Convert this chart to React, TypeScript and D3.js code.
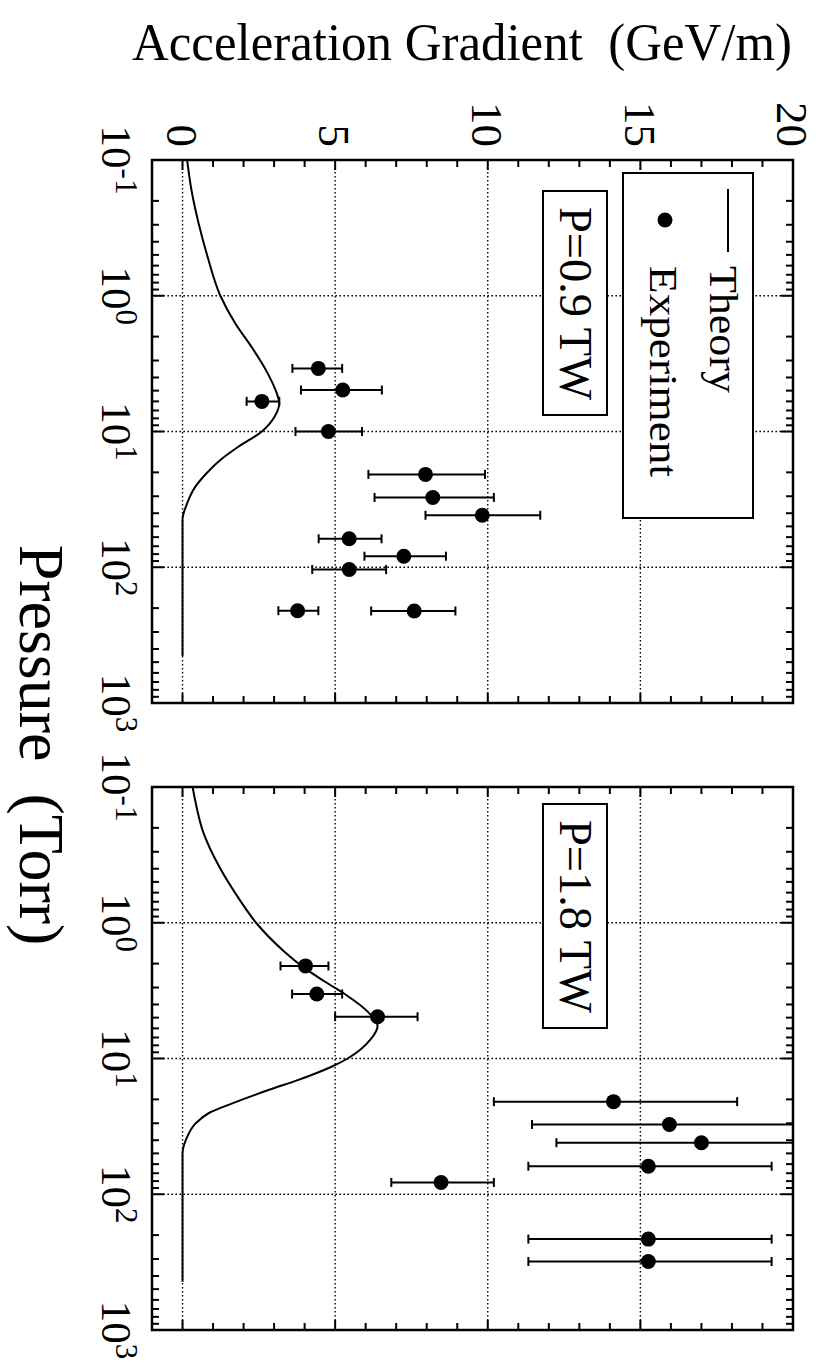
import React from 'react';
import * as d3 from 'd3';

// axis ticks
const pressureTicks = [0.1, 1, 10, 100, 1000];
const pressureExponents = ['-1', '0', '1', '2', '3'];
const gradientTicks = [0, 5, 10, 15, 20];

// P = 0.9 TW
const theoryLowPressure = [0.1, 0.17, 0.295, 0.525, 1, 1.6, 2.38, 3.73, 5.25, 6.17, 7.76, 10, 12.9, 16.2, 20.4, 25.7, 33.9, 44.7, 450];
const theoryLowGradient = [0.15, 0.3, 0.53, 0.83, 1.24, 1.73, 2.26, 2.79, 3.09, 3.17, 3.02, 2.6, 1.84, 1.24, 0.78, 0.41, 0.15, 0.0, 0.0];
const expLowPressure = [3.43, 4.95, 6.0, 10, 20.7, 30.6, 41.4, 61.7, 82.9, 104, 209, 210];
const expLowGradient = [4.45, 5.25, 2.6, 4.78, 7.96, 8.2, 9.82, 5.46, 7.25, 5.46, 3.77, 7.59];
const expLowErrLo = [3.6, 3.88, 2.1, 3.7, 6.09, 6.29, 7.96, 4.46, 5.96, 4.25, 3.14, 6.18];
const expLowErrHi = [5.23, 6.53, 3.17, 5.88, 9.91, 10.2, 11.72, 6.52, 8.63, 6.67, 4.45, 8.94];

// P = 1.8 TW
const theoryHighPressure = [0.1, 0.124, 0.216, 0.389, 0.687, 1, 1.62, 2.16, 2.72, 3.39, 4.57, 5.75, 7.24, 10, 11.5, 14.5, 17, 21.4, 25.1, 30.2, 38, 50.1, 442];
const theoryHighGradient = [0.33, 0.41, 0.68, 1.21, 1.89, 2.41, 3.32, 4.0, 4.67, 5.35, 6.09, 6.39, 6.16, 5.41, 4.88, 3.75, 2.84, 1.63, 0.88, 0.42, 0.15, 0.0, 0.0];
const expHighPressure = [2.08, 3.35, 4.92, 20.8, 30.6, 41.7, 62.2, 81.9, 214, 313];
const expHighGradient = [4.03, 4.4, 6.39, 14.12, 15.95, 17.0, 15.26, 8.47, 15.26, 15.26];
const expHighErrLo = [3.21, 3.59, 5.0, 10.2, 11.45, 12.25, 11.33, 6.84, 11.33, 11.33];
const expHighErrHi = [4.78, 5.23, 7.7, 18.17, 20.45, 21.75, 19.3, 10.2, 19.3, 19.3];

const W = 821;
const H = 1365;
const FONT = '"Liberation Serif", "DejaVu Serif", serif';

// the figure is drawn in a landscape frame (u = screen y, v = W - screen x), then rotated
const vTop = 28;
const vBottom = 669;
const panelH = 543;

const panels = [
  {
    id: 'low', top: 160, label: 'P=0.9 TW', boxStart: 191, legend: true,
    theoryP: theoryLowPressure, theoryG: theoryLowGradient,
    expP: expLowPressure, expG: expLowGradient, lo: expLowErrLo, hi: expLowErrHi,
  },
  {
    id: 'high', top: 787, label: 'P=1.8 TW', boxStart: 804, legend: false,
    theoryP: theoryHighPressure, theoryG: theoryHighGradient,
    expP: expHighPressure, expG: expHighGradient, lo: expHighErrLo, hi: expHighErrHi,
  },
];

const y = d3.scaleLinear().domain([-1, 20]).range([vBottom, vTop]);

const minorLogTicks = () => {
  const out: number[] = [];
  for (let e = -1; e < 3; e++) {
    for (let m = 2; m <= 9; m++) out.push(m * Math.pow(10, e));
  }
  return out;
};

const Panel = ({ p }: { p: typeof panels[number] }) => {
  const x = d3.scaleLog().domain([0.1, 1000]).range([p.top, p.top + panelH]);
  const line = d3.line<number>()
    .x((_, i) => x(p.theoryP[i]))
    .y((_, i) => y(p.theoryG[i]))
    .curve(d3.curveMonotoneX);
  const minor = d3.range(-1, 21);
  const clipId = `clip-${p.id}`;
  return (
    <g>
      <defs>
        <clipPath id={clipId}>
          <rect x={p.top} y={vTop} width={panelH} height={vBottom - vTop} />
        </clipPath>
      </defs>
      {/* dotted grid */}
      <g stroke="#000" strokeWidth={1.4} strokeDasharray="1.6 2.4">
        {[1, 10, 100].map(t => (
          <line key={`gx${t}`} x1={x(t)} x2={x(t)} y1={vTop} y2={vBottom} />
        ))}
        {[0, 5, 10, 15].map(t => (
          <line key={`gy${t}`} x1={p.top} x2={p.top + panelH} y1={y(t)} y2={y(t)} />
        ))}
      </g>
      {/* label box */}
      <rect x={p.boxStart} y={214} width={224} height={64} fill="#fff" stroke="#000" strokeWidth={2} />
      <text x={p.boxStart + 16} y={261} fontFamily={FONT} fontSize={46} textLength={193} lengthAdjust="spacingAndGlyphs">{p.label}</text>
      {p.legend && (
        <g>
          <rect x={173} y={68} width={345} height={130} fill="#fff" stroke="#000" strokeWidth={2} />
          <line x1={189} x2={252} y1={93} y2={93} stroke="#000" strokeWidth={2} />
          <circle cx={220} cy={156} r={7.5} fill="#000" />
          <text x={266} y={111} fontFamily={FONT} fontSize={40} textLength={127} lengthAdjust="spacingAndGlyphs">Theory</text>
          <text x={266} y={171} fontFamily={FONT} fontSize={40} textLength={211} lengthAdjust="spacingAndGlyphs">Experiment</text>
        </g>
      )}
      <g clipPath={`url(#${clipId})`}>
        <path d={line(p.theoryP) || ''} fill="none" stroke="#000" strokeWidth={2} />
        {p.expP.map((pr, i) => {
          const cx = x(pr);
          return (
            <g key={i} stroke="#000" strokeWidth={2}>
              <line x1={cx} x2={cx} y1={y(p.lo[i])} y2={y(p.hi[i])} />
              <line x1={cx - 4.5} x2={cx + 4.5} y1={y(p.lo[i])} y2={y(p.lo[i])} />
              <line x1={cx - 4.5} x2={cx + 4.5} y1={y(p.hi[i])} y2={y(p.hi[i])} />
              <circle cx={cx} cy={y(p.expG[i])} r={7.5} fill="#000" stroke="none" />
            </g>
          );
        })}
      </g>
      {/* frame */}
      <rect x={p.top} y={vTop} width={panelH} height={vBottom - vTop} fill="none" stroke="#000" strokeWidth={2.5} />
      {/* gradient ticks on both long edges, pressure ticks on both short edges */}
      <g stroke="#000" strokeWidth={2}>
        {minor.map(t => (
          <g key={`ty${t}`}>
            <line x1={p.top} x2={p.top + (t % 5 === 0 ? 10 : 7)} y1={y(t)} y2={y(t)} />
            <line x1={p.top + panelH} x2={p.top + panelH - (t % 5 === 0 ? 10 : 7)} y1={y(t)} y2={y(t)} />
          </g>
        ))}
        {minorLogTicks().map(t => (
          <g key={`tm${t}`}>
            <line x1={x(t)} x2={x(t)} y1={vBottom} y2={vBottom - 7} />
            <line x1={x(t)} x2={x(t)} y1={vTop} y2={vTop + 7} />
          </g>
        ))}
        {pressureTicks.map(t => (
          <g key={`tM${t}`}>
            <line x1={x(t)} x2={x(t)} y1={vBottom} y2={vBottom - 12} />
            <line x1={x(t)} x2={x(t)} y1={vTop} y2={vTop + 12} />
          </g>
        ))}
      </g>
      {/* pressure tick labels */}
      {pressureTicks.map((t, i) => (
        <text key={`lp${t}`} x={x(t)} y={719} textAnchor="middle" fontFamily={FONT} fontSize={43}>
          10<tspan dy={-14} fontSize={31}>{pressureExponents[i]}</tspan>
        </text>
      ))}
      {p.legend && gradientTicks.map(t => (
        <text key={`lg${t}`} x={p.top - 13} y={y(t)} dy="0.35em" textAnchor="end" fontFamily={FONT} fontSize={45}>{t}</text>
      ))}
    </g>
  );
};

export default function App() {
  return (
    <svg width={W} height={H} style={{ position: 'absolute', left: 0, top: 0, background: '#fff' }}>
      <rect width={W} height={H} fill="#fff" />
      <text x={462} y={60} textAnchor="middle" fontFamily={FONT} fontSize={52} textLength={660} lengthAdjust="spacingAndGlyphs">
        {'Acceleration Gradient\u00a0\u00a0(GeV/m)'}
      </text>
      <g transform={`translate(${W},0) rotate(90)`}>
        {panels.map(p => <Panel key={p.id} p={p} />)}
        <text x={745} y={801} textAnchor="middle" fontFamily={FONT} fontSize={64}>{'Pressure\u00a0\u00a0(Torr)'}</text>
      </g>
    </svg>
  );
}
